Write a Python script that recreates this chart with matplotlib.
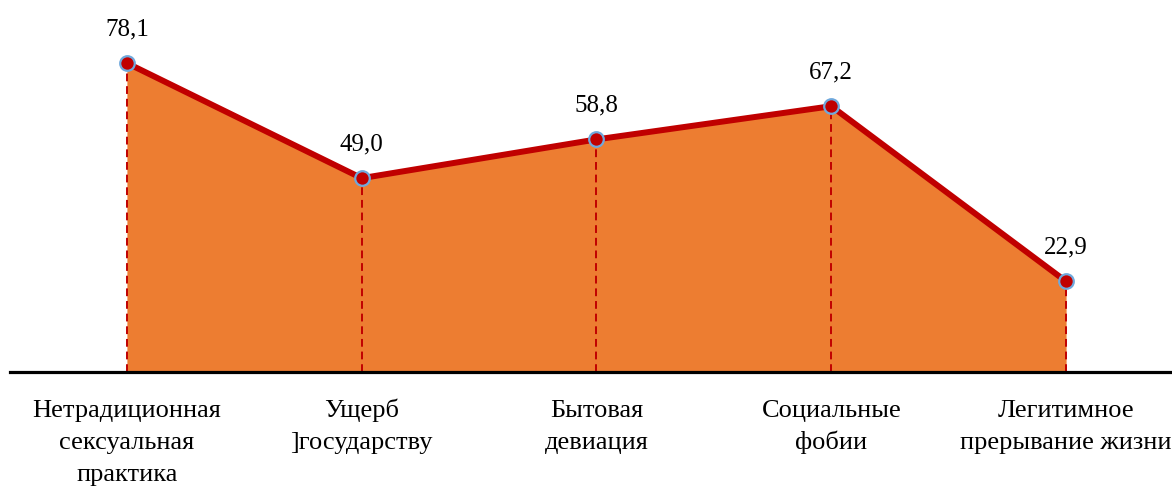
import matplotlib
matplotlib.use("Agg")
import matplotlib.pyplot as plt

categories = ["Нетрадиционная\nсексуальная\nпрактика", "Ущерб\n]государству",
              "Бытовая\nдевиация", "Социальные\nфобии", "Легитимное\nпрерывание жизни"]
values = [78.1, 49.0, 58.8, 67.2, 22.9]
value_labels = ["78,1", "49,0", "58,8", "67,2", "22,9"]

plt.rcParams['font.family'] = ['Liberation Serif', 'DejaVu Serif']

fig = plt.figure(figsize=(11.72, 4.94), dpi=100)
W, H = 1172, 494
left_px, right_px = 9.5, 1183.5
top_px, base_px = 16, 372
ax = fig.add_axes([left_px / W, (H - base_px) / H, (right_px - left_px) / W, (base_px - top_px) / H])

x = list(range(len(values)))
ax.fill_between(x, 0, values, color='#ED7D31', linewidth=0, zorder=1)
ax.vlines(x, 0, values, colors='#C00000', linestyles=(0, (4, 2.5)), linewidth=1.4, zorder=2)
ax.plot(x, values, color='#C00000', linewidth=4.3, zorder=3, solid_joinstyle='miter')
ax.plot(x, values, linestyle='none', marker='o', markersize=10.5, markerfacecolor='#C00000',
        markeredgecolor='#6FA8DC', markeredgewidth=1.6, zorder=4)

for xi, v, lab in zip(x, values, value_labels):
    ax.annotate(lab, (xi, v), xytext=(0, 27.5), textcoords='offset pixels',
                ha='center', va='baseline', fontsize=18, color='black')

for xi, cat in zip(x, categories):
    for i, line in enumerate(cat.split('\n')):
        ax.annotate(line, (xi, 0), xytext=(0, -(45 + 32 * i)), textcoords='offset pixels',
                    ha='center', va='baseline', fontsize=19, color='black',
                    annotation_clip=False)

ax.set_xlim(-0.5, 4.5)
ax.set_ylim(0, 90)
ax.set_xticks([])
ax.set_yticks([])
for s in ['top', 'left', 'right']:
    ax.spines[s].set_visible(False)
ax.spines['bottom'].set_linewidth(2.3)
ax.spines['bottom'].set_color('black')
ax.patch.set_alpha(0)

fig.savefig('out.png', dpi=100)
